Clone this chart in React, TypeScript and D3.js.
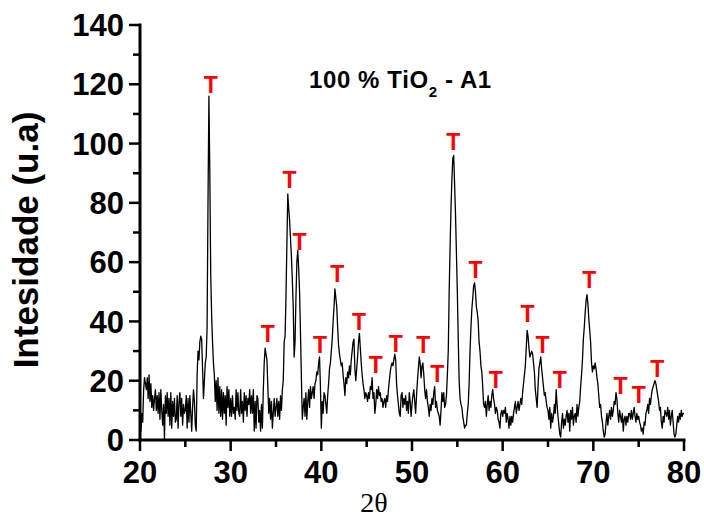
import React from "react";
import * as d3 from "d3";

// XRD scan, intensity every 0.1 deg of 2-theta, split by decade
const scan20 = [
  4, 3, 9, 6, 17, 21, 19, 17, 21, 14,
  22, 13, 19, 11, 15, 10, 14, 17, 10, 15,
  9, 16, 7, 17, 10, 5, 12, 0.5, 15, 9,
  16, 8, 14, 5, 16, 4, 13, 8, 14, 6,
  7, 15, 4, 13, 16, 8, 14, 5, 12, 9,
  10, 15, 4, 14, 6, 15, 9, 3, 11, 17,
  13, 5, 3, 22, 30, 27, 33, 35, 34, 24,
  14, 20, 26, 28, 38, 80, 116, 90, 56, 42,
  33, 26, 22, 13, 20, 10, 21, 9, 18, 8,
  17, 7, 16, 9, 15, 5, 18, 11, 17, 8,
];
const scan30 = [
  14, 8, 15, 9, 11, 7, 17, 10, 16, 9,
  8, 17, 9, 13, 6, 16, 10, 15, 8, 14,
  12, 17, 9, 15, 9, 17, 3, 13, 4, 15,
  14, 6, 10, 3, 12, 4, 17, 26, 31, 29,
  27, 18, 9, 14, 7, 13, 4, 9, 14, 8,
  11, 14, 8, 13, 7, 15, 10, 17, 20, 33,
  35, 48, 66, 83, 78, 74, 68, 62, 54, 45,
  28, 33, 48, 60, 64, 58, 50, 36, 21, 7,
  11, 14, 8, 16, 7, 13, 17, 11, 18, 14,
  16, 18, 14, 19, 20, 23, 22, 26, 28, 18,
];
const scan40 = [
  4, 13, 9, 16, 15, 12, 9, 15, 19, 24,
  26, 30, 34, 40, 45, 51, 48, 45, 38, 32,
  29, 27, 25, 26, 22, 19, 15, 21, 19, 23,
  21, 25, 22, 27, 30, 33, 34, 24, 20, 24,
  28, 33, 36, 31, 26, 22, 19, 17, 14, 16,
  15, 13, 16, 14, 18, 17, 21, 14, 16, 9,
  12, 17, 14, 18, 15, 16, 13, 14, 11, 13,
  14, 11, 15, 13, 17, 20, 23, 25, 26, 25,
  27, 29, 27, 19, 15, 12, 9, 8, 15, 16,
  11, 14, 12, 15, 10, 13, 9, 16, 13, 8,
];
const scan50 = [
  12, 15, 17, 13, 9, 15, 20, 24, 28, 26,
  21, 25, 26, 22, 17, 14, 17, 13, 11, 8,
  12, 10, 14, 12, 16, 18, 11, 13, 10, 9,
  8, 5, 10, 16, 13, 16, 11, 12, 15, 22,
  30, 50, 65, 78, 88, 95, 96, 86, 76, 63,
  50, 34, 20, 14, 12, 11, 8, 6, 4, 5,
  5, 9, 12, 19, 30, 38, 44, 48, 52, 53,
  50, 45, 43, 40, 33, 30, 25, 23, 18, 12,
  11, 13, 8, 12, 15, 10, 13, 11, 15, 17,
  14, 12, 9, 11, 10, 7, 6, 4, 9, 10,
];
const scan60 = [
  8, 10, 9, 11, 6, 9, 7, 4, 8, 5,
  8, 6, 9, 11, 13, 9, 11, 13, 10, 12,
  14, 12, 16, 19, 22, 25, 31, 37, 35, 31,
  28, 29, 30, 29, 26, 23, 17, 14, 11, 18,
  24, 26, 28, 24, 21, 18, 15, 16, 13, 11,
  10, 7, 11, 4, 9, 6, 8, 12, 9, 17,
  12, 8, 5, 2, 1, 6, 9, 4, 7, 5,
  8, 10, 6, 9, 3, 10, 7, 11, 5, 8,
  9, 6, 12, 8, 11, 13, 18, 22, 27, 34,
  38, 43, 47, 49, 46, 41, 37, 33, 26, 23,
];
const scan70 = [
  25, 24, 26, 24, 21, 19, 15, 11, 12, 8,
  6, 3, 1, 2, 6, 9, 5, 8, 10, 7,
  11, 8, 10, 13, 12, 16, 14, 9, 6, 10,
  8, 6, 9, 3, 7, 8, 5, 8, 6, 9,
  9, 7, 10, 7, 9, 11, 8, 6, 9, 7,
  8, 6, 5, 3, 4, 2, 6, 5, 9, 10,
  12, 9, 14, 12, 15, 17, 18, 19, 20, 19,
  17, 15, 13, 10, 11, 6, 4, 8, 6, 10,
  9, 8, 11, 7, 10, 5, 8, 10, 6, 2,
  1, 2, 5, 8, 6, 9, 7, 10, 8, 9,
  9,
];

// "T" (TiO2) peak labels
const markerAngles = [27.8, 34.1, 36.5, 37.6, 39.85, 41.75, 44.15, 46.0, 48.2, 51.25, 52.8,
  54.55, 57.0, 59.25, 62.75, 64.4, 66.3, 69.55, 73.0, 75.0, 77.05];
const markerLevels = [119.8, 36, 87.7, 66.9, 32, 56.2, 39.9, 25.3, 32.6, 32, 22.5,
  100.6, 57.4, 20.2, 42.7, 32, 20.2, 54, 18.2, 15.2, 24.2];

const yTicks = [0, 20, 40, 60, 80, 100, 120, 140];
const xTicks = [20, 30, 40, 50, 60, 70, 80];

const startAngle = 20;
const step = 0.1;

export default function App() {
  const width = 704;
  const height = 518;
  const x = d3.scaleLinear().domain([20, 80]).range([140, 684]);
  const y = d3.scaleLinear().domain([0, 140]).range([440, 25]);

  const intensity = [...scan20, ...scan30, ...scan40, ...scan50, ...scan60, ...scan70];
  const line = d3
    .line<number>()
    .x((_, i) => x(startAngle + i * step))
    .y((d) => y(d));

  const font = "Arial, 'Liberation Sans', Helvetica, sans-serif";
  const minorY = d3.range(10, 140, 20);
  const minorX = d3.range(25, 80, 10);

  return (
    <svg width={width} height={height} style={{position: "absolute", left: 0, top: 0, background: "#fff"}}>
      <path d={line(intensity) || ""} fill="none" stroke="#000" strokeWidth={1.3} strokeLinejoin="round" />

      {/* axes */}
      <line x1={x(20)} x2={x(20)} y1={y(140)} y2={y(0)} stroke="#000" strokeWidth={3} strokeLinecap="square" />
      <line x1={x(20)} x2={x(80)} y1={y(0)} y2={y(0)} stroke="#000" strokeWidth={3} strokeLinecap="square" />
      {yTicks.map((t) => (
        <g key={"y" + t}>
          <line x1={x(20) - 11} x2={x(20)} y1={y(t)} y2={y(t)} stroke="#000" strokeWidth={2.5} />
          <text x={124} y={y(t)} dy="0.36em" textAnchor="end" fontFamily={font} fontWeight="bold" fontSize={31}>
            {t}
          </text>
        </g>
      ))}
      {minorY.map((t) => (
        <line key={"my" + t} x1={x(20) - 7} x2={x(20)} y1={y(t)} y2={y(t)} stroke="#000" strokeWidth={2.5} />
      ))}
      {xTicks.map((t) => (
        <g key={"x" + t}>
          <line x1={x(t)} x2={x(t)} y1={y(0)} y2={y(0) + 11} stroke="#000" strokeWidth={2.5} />
          <text x={x(t)} y={483} textAnchor="middle" fontFamily={font} fontWeight="bold" fontSize={31}>
            {t}
          </text>
        </g>
      ))}
      {minorX.map((t) => (
        <line key={"mx" + t} x1={x(t)} x2={x(t)} y1={y(0)} y2={y(0) + 7} stroke="#000" strokeWidth={2.5} />
      ))}

      {/* axis titles */}
      <text transform="translate(38,240) rotate(-90)" textAnchor="middle" fontFamily={font} fontWeight="bold" fontSize={35}>
        Intesidade (u.a)
      </text>
      <text x={374} y={512} textAnchor="middle" fontFamily="'Times New Roman', 'Liberation Serif', serif" fontSize={28}>
        2θ
      </text>

      {/* sample label */}
      <text x={309} y={88} fontFamily={font} fontWeight="bold" fontSize={24} letterSpacing={0.6}>
        100 % TiO<tspan fontSize={15} dy={9}>2</tspan>
        <tspan dy={-9}> - A1</tspan>
      </text>

      {markerAngles.map((a, i) => (
        <text key={"m" + i} x={x(a)} y={y(markerLevels[i])} dy="0.36em" textAnchor="middle" fontFamily={font}
              fontWeight="bold" fontSize={23} fill="#ff0000">
          T
        </text>
      ))}
    </svg>
  );
}
